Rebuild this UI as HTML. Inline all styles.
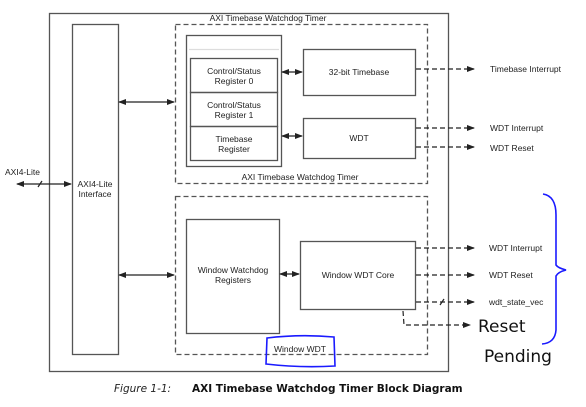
<!DOCTYPE html>
<html><head><style>
body{margin:0;background:#fff;}
svg{display:block;font-family:"Liberation Sans",sans-serif;}
</style></head><body>
<svg width="586" height="407" viewBox="0 0 586 407">
<defs>
<marker id="a" markerWidth="8" markerHeight="6" refX="7" refY="3" orient="auto" markerUnits="userSpaceOnUse"><path d="M0,0 L8,3 L0,6 z" fill="#222"/></marker>
<marker id="b" markerWidth="8" markerHeight="6" refX="1" refY="3" orient="auto" markerUnits="userSpaceOnUse"><path d="M8,0 L0,3 L8,6 z" fill="#222"/></marker>
</defs>
<g fill="none" stroke="#555" stroke-width="1.3">
<rect x="49.5" y="13.5" width="399" height="358"/>
<rect x="72.5" y="24.5" width="46" height="330"/>
<rect x="175.5" y="24.5" width="252" height="159" stroke-dasharray="5,3"/>
<rect x="175.5" y="196.5" width="252" height="158" stroke-dasharray="5,3"/>
<rect x="186.5" y="35.5" width="95" height="131"/>
<line x1="189" y1="49.5" x2="279" y2="49.5" stroke="#ddd"/>
<rect x="190.5" y="58.5" width="87" height="34"/>
<rect x="190.5" y="92.5" width="87" height="34"/>
<rect x="190.5" y="126.5" width="87" height="34"/>
<rect x="303.5" y="49.5" width="112" height="46"/>
<rect x="303.5" y="118.5" width="112" height="40"/>
<rect x="186.5" y="219.5" width="93" height="114"/>
<rect x="300.5" y="241.5" width="115" height="68"/>
</g>
<g stroke="#222" stroke-width="1.2" fill="none">
<line x1="17" y1="184" x2="71" y2="184" marker-start="url(#b)" marker-end="url(#a)"/>
<line x1="38" y1="187" x2="42" y2="181"/>
<line x1="119" y1="102" x2="174" y2="102" marker-start="url(#b)" marker-end="url(#a)"/>
<line x1="119" y1="275" x2="174" y2="275" marker-start="url(#b)" marker-end="url(#a)"/>
<line x1="282" y1="72" x2="302" y2="72" marker-start="url(#b)" marker-end="url(#a)"/>
<line x1="282" y1="136" x2="302" y2="136" marker-start="url(#b)" marker-end="url(#a)"/>
<line x1="280" y1="274" x2="299" y2="274" marker-start="url(#b)" marker-end="url(#a)"/>
<g stroke-dasharray="5,3">
<line x1="416" y1="69" x2="474" y2="69" marker-end="url(#a)"/>
<line x1="416" y1="128" x2="474" y2="128" marker-end="url(#a)"/>
<line x1="416" y1="147" x2="474" y2="147" marker-end="url(#a)"/>
<line x1="416" y1="248" x2="474" y2="248" marker-end="url(#a)"/>
<line x1="416" y1="275" x2="474" y2="275" marker-end="url(#a)"/>
<line x1="416" y1="302" x2="474" y2="302" marker-end="url(#a)"/>
<polyline points="403,311 404,325 470,325" marker-end="url(#a)"/>
</g>
<line x1="440" y1="305" x2="444" y2="299"/>
</g>
<g font-size="8.5" fill="#222" text-anchor="middle">
<text x="268" y="21">AXI Timebase Watchdog Timer</text>
<text x="300" y="180">AXI Timebase Watchdog Timer</text>
<text x="234" y="74">Control/Status</text><text x="234" y="84">Register 0</text>
<text x="234" y="108">Control/Status</text><text x="234" y="118">Register 1</text>
<text x="234" y="142">Timebase</text><text x="234" y="152">Register</text>
<text x="359" y="75">32-bit Timebase</text>
<text x="359" y="141">WDT</text>
<text x="233" y="273">Window Watchdog</text><text x="233" y="283">Registers</text>
<text x="358" y="278">Window WDT Core</text>
<text x="95" y="187">AXI4-Lite</text><text x="95" y="197">Interface</text>
<text x="300" y="352">Window WDT</text>
</g>
<g font-size="8.5" fill="#222">
<text x="5" y="175">AXI4-Lite</text>
<text x="490" y="72">Timebase Interrupt</text>
<text x="490" y="131">WDT Interrupt</text>
<text x="490" y="151">WDT Reset</text>
<text x="489" y="251">WDT Interrupt</text>
<text x="489" y="278">WDT Reset</text>
<text x="489" y="305">wdt_state_vec</text>
</g>
<g fill="none" stroke="#1a1aff" stroke-width="1.6">
<path d="M267,338 Q300,334 334,337 L335,366 Q300,368 266,364 Z"/>
<path d="M543,194 Q556,196 556,215 L556,265 Q558,268 566,270 Q558,272 556,276 L556,330 Q555,343 542,344"/>
</g>
<text x="478" y="332" font-family="'DejaVu Sans',sans-serif" font-size="17" fill="#111">Reset</text>
<text x="484" y="362" font-family="'DejaVu Sans',sans-serif" font-size="17" fill="#111">Pending</text>
<text x="114" y="392" font-family="'DejaVu Sans',sans-serif" font-style="italic" font-size="10.5" fill="#222">Figure 1-1:</text>
<text x="192" y="392" font-family="'DejaVu Sans',sans-serif" font-weight="bold" font-size="10.5" fill="#111">AXI Timebase Watchdog Timer Block Diagram</text>
</svg>
</body></html>
